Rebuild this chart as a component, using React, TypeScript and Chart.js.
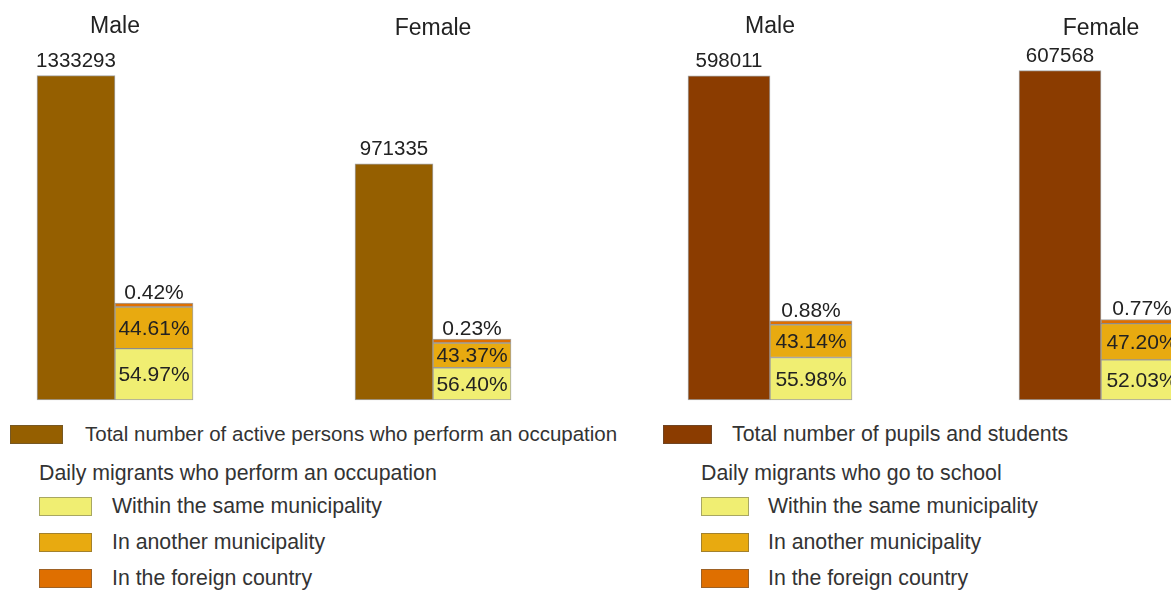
import React, { useEffect, useRef } from "react";
import { Chart, registerables } from "chart.js";

Chart.register(...registerables);

// ---------- DATA ----------
const groups = ["Male", "Female"];

// Panel 1: active persons who perform an occupation
const occTotals = [1333293, 971335];
const occWithinPct = [54.97, 56.4];
const occAnotherPct = [44.61, 43.37];
const occForeignPct = [0.42, 0.23];
// daily migrants (persons)
const occWithin = [211000, 132500];
const occAnother = [171200, 101900];
const occForeign = [1600, 540];

// Panel 2: pupils and students
const schTotals = [598011, 607568];
const schWithinPct = [55.98, 52.03];
const schAnotherPct = [43.14, 47.2];
const schForeignPct = [0.88, 0.77];
const schWithin = [78400, 73900];
const schAnother = [60400, 67000];
const schForeign = [1230, 1090];

const legendOcc = {
  total: "Total number of active persons who perform an occupation",
  heading: "Daily migrants who perform an occupation",
};
const legendSch = {
  total: "Total number of pupils and students",
  heading: "Daily migrants who go to school",
};
const migrantItems = ["Within the same municipality", "In another municipality", "In the foreign country"];

// ---------- STYLE ----------
const C_OCC = "#955f00";
const C_SCH = "#8b3c00";
const C_WITHIN = "#f0ee72";
const C_ANOTHER = "#e8aa10";
const C_FOREIGN = "#df6f00";
const BORDER = "rgba(90,90,90,0.55)";
const FONT = "'Liberation Sans', Arial, sans-serif";
const TEXT = "#222";

function fmtPct(v: number) {
  return v.toFixed(2) + "%";
}

function makeLabelPlugin(pcts: number[][]) {
  return {
    id: "valueLabels",
    afterDatasetsDraw(chart: any) {
      const ctx = chart.ctx;
      ctx.save();
      ctx.fillStyle = TEXT;
      ctx.textAlign = "center";
      ctx.textBaseline = "middle";
      // group titles
      ctx.font = `23px ${FONT}`;
      const xs = chart.scales.x;
      chart.data.labels.forEach((lab: string, i: number) => {
        ctx.fillText(lab, xs.getPixelForValue(i), 27 + i * 2);
      });
      chart.data.datasets.forEach((ds: any, di: number) => {
        const meta = chart.getDatasetMeta(di);
        meta.data.forEach((el: any, i: number) => {
          const { x, y, base } = el.getProps(["x", "y", "base"], true);
          if (di === 0) {
            ctx.font = `20.5px ${FONT}`;
            ctx.fillText(String(ds.data[i]), x, y - 14);
          } else if (di === 3) {
            ctx.font = `21px ${FONT}`;
            ctx.fillText(fmtPct(pcts[2][i]), x, y - 10);
          } else {
            ctx.font = `21px ${FONT}`;
            ctx.fillText(fmtPct(pcts[di - 1][i]), x, (y + base) / 2 + 1);
          }
        });
      });
      ctx.restore();
    },
  };
}

function BarPanel(props: {
  totals: number[];
  within: number[];
  another: number[];
  foreign: number[];
  pcts: number[][];
  totalColor: string;
  totalLabel: string;
  yMax: number;
  thickness: number;
  padLeft: number;
  padRight: number;
  left: number;
  width: number;
}) {
  const ref = useRef<HTMLCanvasElement>(null);
  useEffect(() => {
    if (!ref.current) return;
    const common = {
      barThickness: props.thickness,
      borderColor: BORDER,
      borderWidth: 1,
      borderSkipped: false,
      clip: false as any,
    };
    const chart = new Chart(ref.current, {
      type: "bar",
      data: {
        labels: groups,
        datasets: [
          { ...common, label: props.totalLabel, data: props.totals, backgroundColor: props.totalColor, stack: "total" },
          { ...common, label: migrantItems[0], data: props.within, backgroundColor: C_WITHIN, stack: "mig" },
          { ...common, label: migrantItems[1], data: props.another, backgroundColor: C_ANOTHER, stack: "mig" },
          { ...common, label: migrantItems[2], data: props.foreign, backgroundColor: C_FOREIGN, stack: "mig", minBarLength: 4 },
        ],
      },
      options: {
        animation: false,
        responsive: false,
        layout: { padding: { left: props.padLeft, right: props.padRight, top: 40, bottom: 10 } },
        plugins: { legend: { display: false }, tooltip: { enabled: false } },
        scales: {
          x: { display: false, offset: false },
          y: { display: false, stacked: true, min: 0, max: props.yMax },
        },
      },
      plugins: [makeLabelPlugin(props.pcts)],
    });
    return () => chart.destroy();
  }, []);
  return (
    <canvas
      ref={ref}
      width={props.width}
      height={410}
      style={{ position: "absolute", left: props.left, top: 0, width: props.width, height: 410 }}
    />
  );
}

function Swatch(p: { x: number; y: number; w: number; h: number; color: string }) {
  return (
    <div
      style={{
        position: "absolute",
        left: p.x,
        top: p.y,
        width: p.w,
        height: p.h,
        background: p.color,
        boxSizing: "border-box",
        border: "1px solid rgba(80,80,80,0.45)",
      }}
    />
  );
}

function Label(p: { x: number; cy: number; text: string; size: number }) {
  return (
    <div
      style={{
        position: "absolute",
        left: p.x,
        top: p.cy - 13,
        height: 26,
        lineHeight: "26px",
        fontFamily: FONT,
        fontSize: p.size,
        color: "#333",
        whiteSpace: "nowrap",
      }}
    >
      {p.text}
    </div>
  );
}

function Legend(p: {
  totalColor: string;
  texts: { total: string; heading: string };
  totalX: number;
  totalW: number;
  totalTextX: number;
  totalSize: number;
  subX: number;
  subW: number;
  subTextX: number;
}) {
  const subColors = [C_WITHIN, C_ANOTHER, C_FOREIGN];
  const subCy = [506, 542, 578];
  return (
    <>
      <Swatch x={p.totalX} y={425} w={p.totalW} h={19} color={p.totalColor} />
      <Label x={p.totalTextX} cy={434} text={p.texts.total} size={p.totalSize} />
      <Label x={p.subX} cy={473} text={p.texts.heading} size={21.3} />
      {migrantItems.map((t, i) => (
        <React.Fragment key={t}>
          <Swatch x={p.subX} y={subCy[i] - 9} w={p.subW} h={19} color={subColors[i]} />
          <Label x={p.subTextX} cy={subCy[i]} text={t} size={21.3} />
        </React.Fragment>
      ))}
    </>
  );
}

export default function App() {
  return (
    <div
      style={{
        position: "absolute",
        left: 0,
        top: 0,
        width: 1171,
        height: 590,
        overflow: "hidden",
        background: "#fff",
      }}
    >
      <BarPanel
        totals={occTotals}
        within={occWithin}
        another={occAnother}
        foreign={occForeign}
        pcts={[occWithinPct, occAnotherPct, occForeignPct]}
        totalColor={C_OCC}
        totalLabel={legendOcc.total}
        yMax={1480000}
        thickness={78}
        padLeft={115}
        padRight={167}
        left={0}
        width={600}
      />
      <BarPanel
        totals={schTotals}
        within={schWithin}
        another={schAnother}
        foreign={schForeign}
        pcts={[schWithinPct, schAnotherPct, schForeignPct]}
        totalColor={C_SCH}
        totalLabel={legendSch.total}
        yMax={664000}
        thickness={82}
        padLeft={170}
        padRight={70}
        left={600}
        width={571}
      />
      <Legend
        totalColor={C_OCC}
        texts={legendOcc}
        totalX={10}
        totalW={53}
        totalTextX={85}
        totalSize={20.5}
        subX={39}
        subW={53}
        subTextX={112}
      />
      <Legend
        totalColor={C_SCH}
        texts={legendSch}
        totalX={663}
        totalW={49}
        totalTextX={732}
        totalSize={21.3}
        subX={701}
        subW={48}
        subTextX={768}
      />
    </div>
  );
}
